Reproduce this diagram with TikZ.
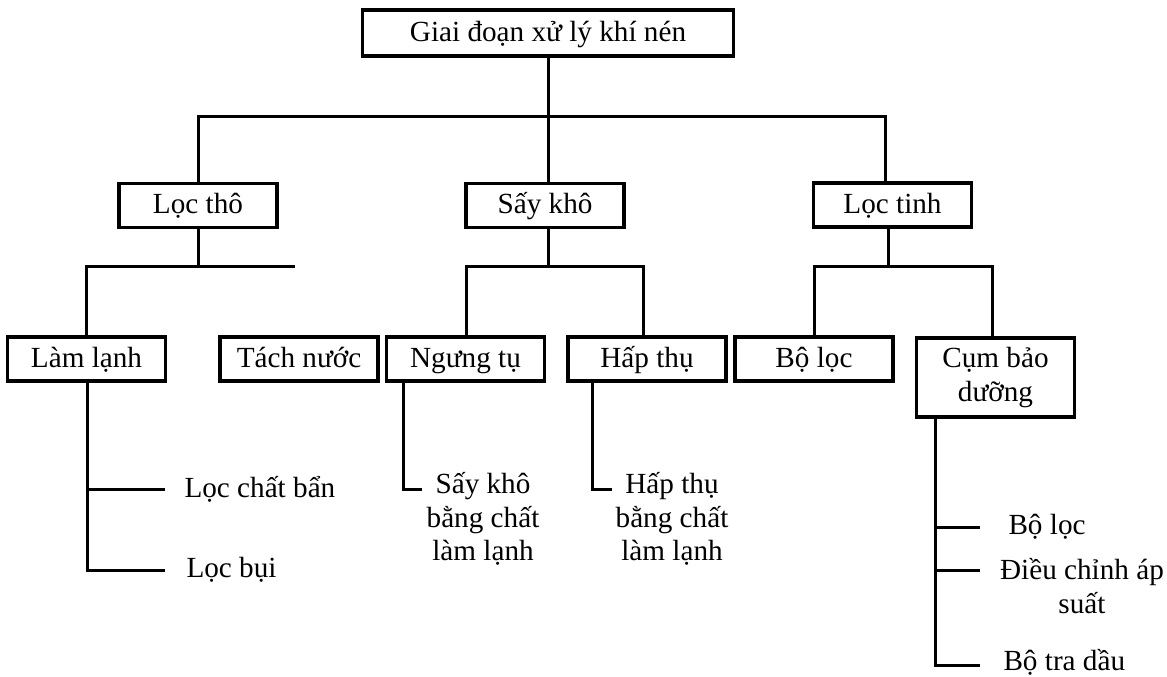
\documentclass[tikz,border=0pt]{standalone}
\usepackage{fontspec}
\setmainfont{Liberation Serif}
\newcommand{\fs}{\fontsize{14.6}{16.75}\selectfont}
\tikzset{
    box/.style={draw, line width=1.7pt, minimum width=79pt, minimum height=22pt, inner sep=0pt, text height=11pt, text depth=3pt, font=\fs},
    leaf/.style={inner sep=0pt, font=\fs, anchor=west},
    leafc/.style={inner sep=0pt, font=\fs, align=center}
}

\begin{document}
\begin{tikzpicture}[x=0.5pt,y=-0.5pt, line width=1.5pt]
        \useasboundingbox (0,0) rectangle (1167,676);

        % boxes
        \node[box, minimum width=185.5pt, minimum height=23pt] (root) at (548,33) {Giai đoạn xử lý khí nén};
        \node[box] (locTho) at (198,205.5) {Lọc thô};
        \node[box] (sayKho) at (545,205.5) {Sấy khô};
        \node[box] (locTinh) at (892.5,205) {Lọc tinh};
        \node[box] (lamLanh) at (86.5,359) {Làm lạnh};
        \node[box] (tachNuoc) at (299,359) {Tách nước};
        \node[box] (ngungTu) at (465.5,359) {Ngưng tụ};
        \node[box] (hapThu) at (647,359) {Hấp thụ};
        \node[box] (boLoc) at (814,359) {Bộ lọc};
        \node[box, text height=, text depth=, minimum height=39.5pt, align=center] (cumBD) at (995.5,377.5) {Cụm bảo\\dưỡng};

        % leaves
        \node[leaf] (locChat) at (183,489) {Lọc chất bẩn};
        \node[leaf] (locBui) at (185,570) {Lọc bụi};
        \node[leafc] (sayCL) at (483,519) {Sấy khô\\bằng chất\\làm lạnh};
        \node[leafc] (hapCL) at (672,519) {Hấp thụ\\bằng chất\\làm lạnh};
        \node[leaf] (boLoc2) at (1007,527) {Bộ lọc};
        \node[leafc] (dieuChinh) at (1082,586) {Điều chỉnh áp\\suất};
        \node[leaf] (boTra) at (1002,662) {Bộ tra dầu};

        % top level
        \coordinate (j0) at (548,116);
        \coordinate (j1) at (885,116);
        \draw (root.south) -- (j0);
        \draw (locTho.north) |- (j1) -- (j1|-locTinh.north);
        \draw (j0) -- (j0|-sayKho.north);

        % loc tho
        \coordinate (j2) at (198,266);
        \coordinate (e2) at (295,266);
        \draw (j2|-locTho.south) -- (j2);
        \draw (lamLanh.north) |- (e2);

        % say kho
        \coordinate (j3) at (548,266);
        \coordinate (j3a) at (466,266);
        \coordinate (j3b) at (643,266);
        \draw (j3|-sayKho.south) -- (j3);
        \draw (j3a|-ngungTu.north) -- (j3a) -- (j3b) -- (j3b|-hapThu.north);

        % loc tinh
        \coordinate (j4) at (888,266);
        \coordinate (j4a) at (814,266);
        \coordinate (j4b) at (992,266);
        \draw (j4|-locTinh.south) -- (j4);
        \draw (j4a|-boLoc.north) -- (j4a) -- (j4b) -- (j4b|-cumBD.north);

        % lam lanh
        \coordinate (t1) at (87,570);
        \coordinate (t1a) at (165,489);
        \coordinate (t1b) at (165,570);
        \draw (t1|-lamLanh.south) -- (t1) -- (t1b);
        \draw (t1a-|t1) -- (t1a);

        % ngung tu, hap thu
        \coordinate (t2) at (403,489);
        \coordinate (t2e) at (422,489);
        \draw (t2|-ngungTu.south) -- (t2) -- (t2e);
        \coordinate (t3) at (592,489);
        \coordinate (t3e) at (612,489);
        \draw (t3|-hapThu.south) -- (t3) -- (t3e);

        % cum bao duong
        \coordinate (t4) at (935,665);
        \coordinate (c1) at (980,527);
        \coordinate (c2) at (980,570);
        \coordinate (c3) at (980,665);
        \draw (t4|-cumBD.south) -- (t4) -- (c3);
        \draw (c1-|t4) -- (c1);
        \draw (c2-|t4) -- (c2);
    \end{tikzpicture}
\end{document}
